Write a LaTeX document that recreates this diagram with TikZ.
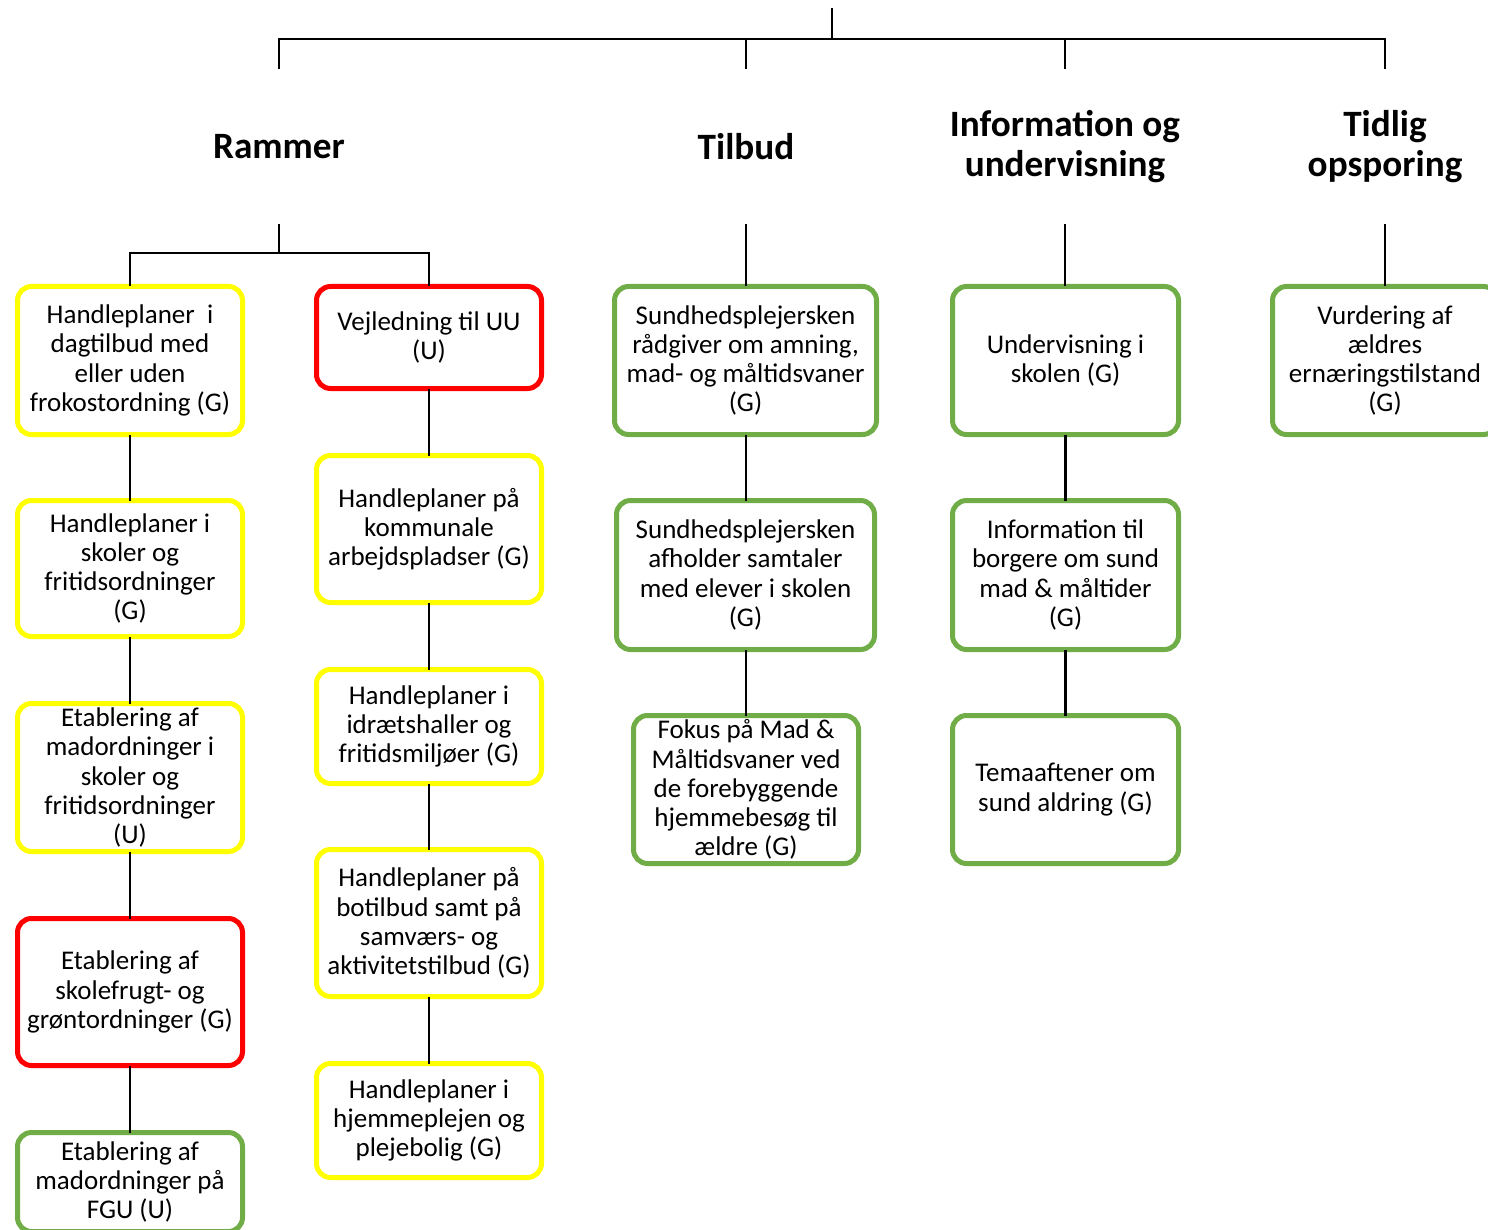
\documentclass[tikz,border=0pt]{standalone}
\usepackage{fontspec}
\setmainfont{Carlito}
\definecolor{boxyellow}{HTML}{FFFF00}
\definecolor{boxred}{HTML}{FF0000}
\definecolor{boxgreen}{HTML}{70AD47}
\begin{document}
\begin{tikzpicture}[x=0.5pt,y=-0.5pt,
  every node/.style={inner sep=0pt,outer sep=0pt},
  card/.style={draw,line width=2.5pt,rounded corners=7pt,fill=white,align=center,
    font=\fontsize{13.5}{14.6}\selectfont},
  ycard/.style={card,draw=boxyellow},
  rcard/.style={card,draw=boxred},
  gcard/.style={card,draw=boxgreen},
  head/.style={align=center,minimum height=77.5pt,font=\fontsize{18.6}{20}\selectfont\bfseries},
  link/.style={draw=black,line width=1.25pt}]
\useasboundingbox (0,0) rectangle (1488,1230);
\clip (0,0) rectangle (1488,1230);

% top of the tree
\coordinate (root) at (832,8);
\coordinate (rootj) at (832,39);

% category headings
\node[head] (hR) at (279,146.5) {Rammer};
\node[head] (hT) at (746,146.5) {Tilbud};
\node[head] (hI) at (1065,146.5) {Information og\\undervisning};
\node[head] (hO) at (1385,146.5) {Tidlig\\opsporing};

% Rammer, first column
\node[ycard,minimum width=112.5pt,minimum height=74pt] (L1) at (130,360.5)
  {Handleplaner\ \ i\\dagtilbud med\\eller uden\\frokostordning (G)};
\node[ycard,minimum width=112.5pt,minimum height=68pt] (L2) at (130,568.5)
  {Handleplaner i\\skoler og\\fritidsordninger\\(G)};
\node[ycard,minimum width=112.5pt,minimum height=74pt] (L3) at (130,777.5)
  {Etablering af\\madordninger i\\skoler og\\fritidsordninger\\(U)};
\node[rcard,minimum width=112.5pt,minimum height=73.5pt] (L4) at (130,992)
  {Etablering af\\skolefrugt- og\\grøntordninger (G)};
\node[gcard,minimum width=112.5pt,minimum height=49.5pt] (L5) at (130,1182)
  {Etablering af\\madordninger på\\FGU (U)};

% Rammer, second column
\node[rcard,minimum width=112.5pt,minimum height=51pt] (M1) at (429,337.5)
  {Vejledning til UU\\(U)};
\node[ycard,minimum width=112.5pt,minimum height=73.5pt] (M2) at (429,529)
  {Handleplaner på\\kommunale\\arbejdspladser (G)};
\node[ycard,minimum width=112.5pt,minimum height=57pt] (M3) at (429,726.5)
  {Handleplaner i\\idrætshaller og\\fritidsmiljøer (G)};
\node[ycard,minimum width=112.5pt,minimum height=73.5pt] (M4) at (429,923)
  {Handleplaner på\\botilbud samt på\\samværs- og\\aktivitetstilbud (G)};
\node[ycard,minimum width=112.5pt,minimum height=57pt] (M5) at (429,1120.5)
  {Handleplaner i\\hjemmeplejen og\\plejebolig (G)};

% Tilbud
\node[gcard,minimum width=131pt,minimum height=74pt] (T1) at (745.5,360.5)
  {Sundhedsplejersken\\rådgiver om amning,\\mad- og måltidsvaner\\(G)};
\node[gcard,minimum width=129pt,minimum height=74.5pt] (T2) at (745.5,575)
  {Sundhedsplejersken\\afholder samtaler\\med elever i skolen\\(G)};
\node[gcard,minimum width=112.5pt,minimum height=74pt] (T3) at (746,789.5)
  {Fokus på Mad \&\\Måltidsvaner ved\\de forebyggende\\hjemmebesøg til\\ældre (G)};

% Information og undervisning
\node[gcard,minimum width=113pt,minimum height=74pt] (I1) at (1065.5,360.5)
  {Undervisning i\\skolen (G)};
\node[gcard,minimum width=113pt,minimum height=74.5pt] (I2) at (1065.5,575)
  {Information til\\borgere om sund\\mad \& måltider\\(G)};
\node[gcard,minimum width=113pt,minimum height=74pt] (I3) at (1065.5,789.5)
  {Temaaftener om\\sund aldring (G)};

% Tidlig opsporing
\node[gcard,minimum width=112.5pt,minimum height=74pt] (O1) at (1385,360.5)
  {Vurdering af\\ældres\\ernæringstilstand\\(G)};

% connectors
\draw[link] (root) -- (rootj);
\draw[link] (hR.north) |- (rootj) -| (hO.north);
\draw[link] (rootj) -| (hT.north);
\draw[link] (rootj) -| (hI.north);

\coordinate (rj) at (279,253);
\draw[link] (hR.south) -- (rj);
\draw[link] (L1.north) |- (rj) -| (M1.north);

\draw[link] (hT.south) -- (hT.south |- T1.north);
\draw[link] (hI.south) -- (hI.south |- I1.north);
\draw[link] (hO.south) -- (O1.north);

\draw[link] (L1.south) -- (L2.north);
\draw[link] (L2.south) -- (L3.north);
\draw[link] (L3.south) -- (L4.north);
\draw[link] (L4.south) -- (L5.north);

\draw[link] (M1.south) -- (M2.north);
\draw[link] (M2.south) -- (M3.north);
\draw[link] (M3.south) -- (M4.north);
\draw[link] (M4.south) -- (M5.north);

\draw[link] (T1.south -| T3.north) -- (T2.north -| T3.north);
\draw[link] (T2.south -| T3.north) -- (T3.north);
\draw[link] (I1.south) -- (I2.north);
\draw[link] (I2.south) -- (I3.north);
\end{tikzpicture}
\end{document}
